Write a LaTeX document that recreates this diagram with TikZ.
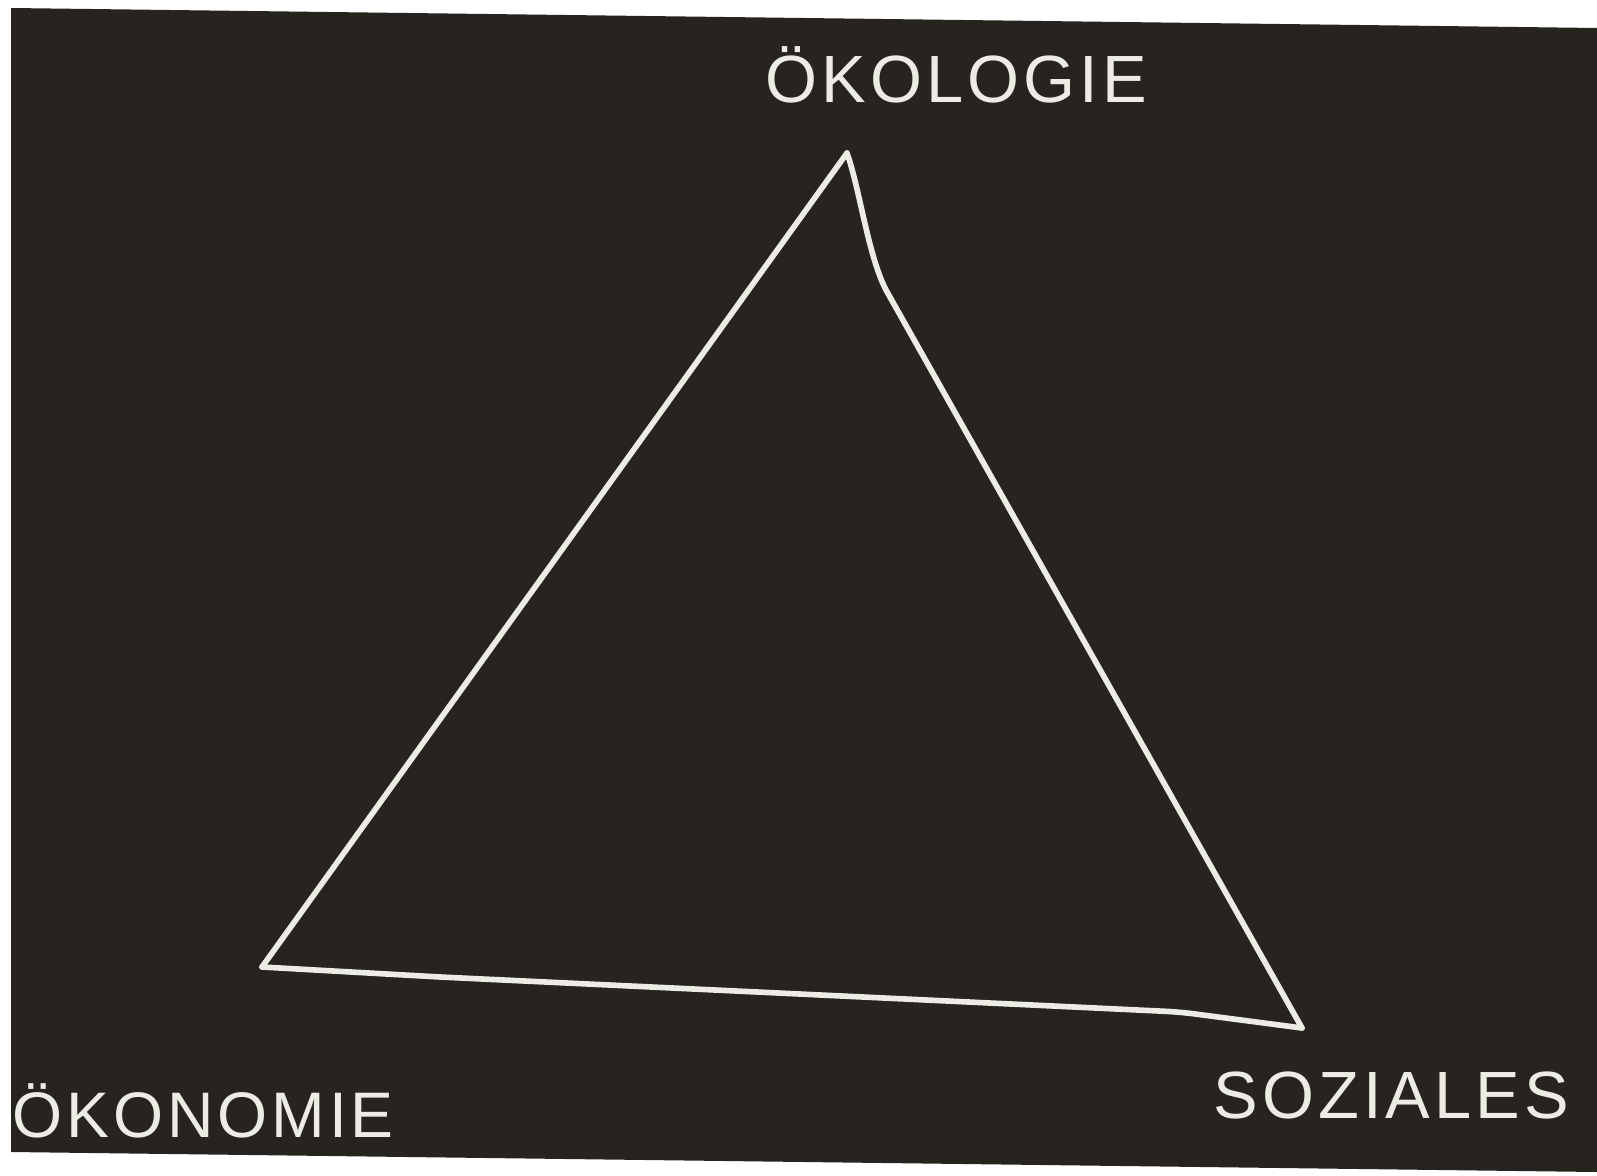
\documentclass[tikz,border=0pt]{standalone}
\usepackage{fontspec}
\setmainfont{Liberation Sans}
\newfontfamily\chalkfont[LetterSpace=6]{Liberation Sans}
\usetikzlibrary{positioning}
\definecolor{boardcol}{RGB}{39,36,32}
\definecolor{chalkcol}{RGB}{236,236,228}

\tikzset{
  chalkline/.style={draw=chalkcol, line width=1.6pt, line join=round, line cap=round},
  chalklabel/.style={text=chalkcol, inner sep=0pt, font=\chalkfont\fontsize{19}{19}\selectfont}
}

\begin{document}
\begin{tikzpicture}[x=0.01cm, y=-0.01cm]
            \useasboundingbox (0,0) rectangle (1597,1176);
            \fill[white] (0,0) rectangle (1597,1176);
            \fill[boardcol] (11,8) -- (1597,28) -- (1597,1172) -- (11,1152) -- cycle;

            % corners of the triangle
            \coordinate (top) at (847,153);
            \coordinate (left) at (262,967);
            \coordinate (right) at (1302,1028);
            \coordinate (r1) at (886,290);
            \coordinate (b1) at (440,977);
            \coordinate (b2) at (1180,1012);

            \node[chalklabel, anchor=base west] (oekologie) at (765,103) {ÖKOLOGIE};
            \node[chalklabel, anchor=base west, font=\chalkfont\fontsize{18.3}{18}\selectfont] (oekonomie) at (12,1137) {ÖKONOMIE};
            \node[chalklabel, anchor=base west] (soziales) at (1213,1118) {SOZIALES};

            \draw[chalkline] (top) -- (left);
            \draw[chalkline] (top) .. controls (860,190) and (868,255) .. (r1) -- (right);
            \draw[chalkline, rounded corners=4pt] (left) -- (b1) -- (b2) -- (right);
        \end{tikzpicture}
\end{document}
